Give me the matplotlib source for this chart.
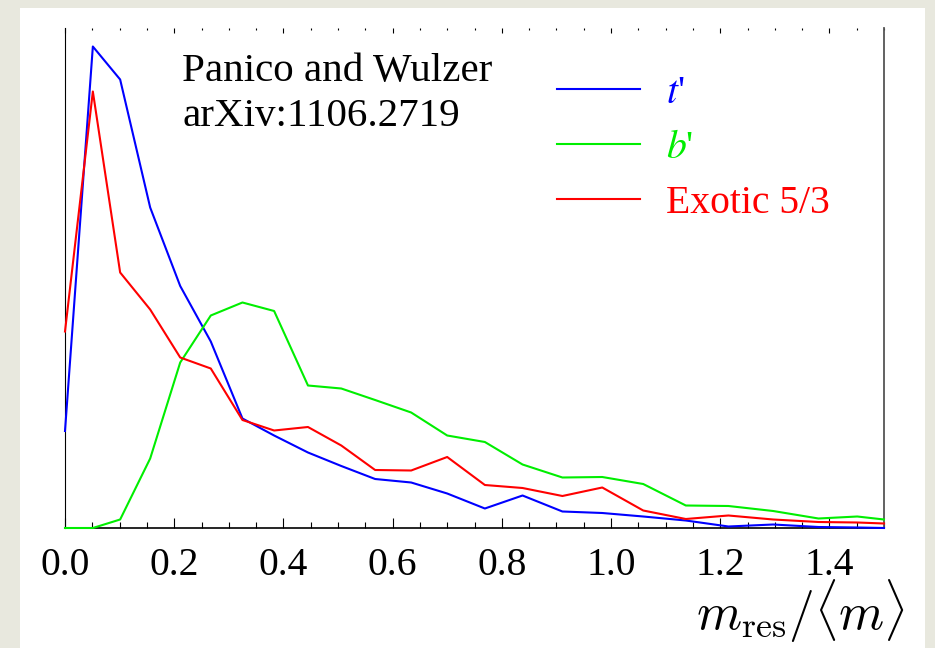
import matplotlib
matplotlib.use("Agg")
import matplotlib.pyplot as plt
from matplotlib.patches import Rectangle
from matplotlib.ticker import MultipleLocator, NullLocator

# bin positions in m_res/<m> (bins get wider towards the tail)
x_bins = [0.0, 0.051, 0.101, 0.156, 0.211, 0.267, 0.325, 0.383, 0.445, 0.506,
          0.568, 0.634, 0.700, 0.769, 0.838, 0.911, 0.984, 1.059, 1.137, 1.215,
          1.297, 1.380, 1.451, 1.500]

# arbitrary-unit distributions
t_prime = [0.194, 0.963, 0.897, 0.641, 0.484, 0.373, 0.219, 0.185, 0.151, 0.124,
           0.098, 0.091, 0.069, 0.039, 0.065, 0.033, 0.030, 0.023, 0.015, 0.003,
           0.007, 0.002, 0.001, 0.000]
b_prime = [0.000, 0.000, 0.017, 0.139, 0.331, 0.425, 0.451, 0.434, 0.285, 0.279,
           0.256, 0.231, 0.185, 0.172, 0.127, 0.101, 0.102, 0.088, 0.045, 0.044,
           0.034, 0.019, 0.023, 0.017]
exotic = [0.393, 0.873, 0.511, 0.437, 0.341, 0.319, 0.216, 0.195, 0.202, 0.165,
          0.116, 0.115, 0.142, 0.086, 0.080, 0.064, 0.081, 0.035, 0.018, 0.025,
          0.017, 0.012, 0.011, 0.009]

series = [
    ("$t$'", t_prime, "#0000ff"),
    ("$b$'", b_prime, "#00ee00"),
    ("Exotic 5/3", exotic, "#ff0000"),
]

plt.rcParams["font.family"] = ["Liberation Serif", "DejaVu Serif"]
plt.rcParams["mathtext.fontset"] = "stix"

W, H = 935, 648
fig = plt.figure(figsize=(W / 100, H / 100), dpi=100)
fig.patch.set_facecolor("#e8e8de")


def fx(px):
    return px / W


def fy(py):
    return 1 - py / H


# white sheet on the textured background
fig.patches.append(Rectangle((fx(20), 0), fx(925) - fx(20), fy(8),
                             transform=fig.transFigure, facecolor="white",
                             edgecolor="none", zorder=-5))

ax = fig.add_axes([fx(65), fy(528), fx(884) - fx(65), fy(28) - fy(528)])
ax.set_facecolor("white")

for label, vals, color in series:
    ax.plot(x_bins, vals, color=color, lw=1.5, label=label, zorder=3,
            clip_on=False)

ax.set_xlim(0, 1.5)
ax.set_ylim(0, 1.0)

ax.spines["top"].set_visible(False)
ax.spines["left"].set_linewidth(0.8)
ax.spines["bottom"].set_linewidth(1.2)
ax.spines["right"].set_linewidth(1.3)
ax.spines["right"].set_color("#555555")

ax.yaxis.set_major_locator(NullLocator())
ax.xaxis.set_major_locator(MultipleLocator(0.2))
ax.xaxis.set_minor_locator(MultipleLocator(0.05))
ax.tick_params(axis="x", which="major", direction="in", length=7, width=0.8,
               labelsize=28.5, pad=14, top=False)
ax.tick_params(axis="x", which="minor", direction="in", length=4.5, width=0.8,
               top=False)
ax.set_xticklabels([f"{v:.1f}" for v in ax.get_xticks()])

# top edge: short ticks, no spine
sec = ax.secondary_xaxis("top")
sec.spines["top"].set_visible(False)
sec.xaxis.set_major_locator(MultipleLocator(0.2))
sec.xaxis.set_minor_locator(MultipleLocator(0.05))
sec.tick_params(which="major", direction="in", length=3.5, width=0.8,
                labeltop=False)
sec.tick_params(which="minor", direction="in", length=1.2, width=0.8)

fig.text(fx(182), fy(81), "Panico and Wulzer", fontsize=29.5,
         va="baseline", ha="left")
fig.text(fx(182), fy(126), "arXiv:1106.2719", fontsize=29.5,
         va="baseline", ha="left")

leg = ax.legend(loc="upper left", bbox_to_anchor=((557 - 65) / 819, (528 - 75) / 500),
                frameon=False, fontsize=28.5, handlelength=2.1, handletextpad=0.65,
                labelspacing=0.45, borderpad=0, borderaxespad=0,
                labelcolor="linecolor")

fig.text(fx(905), fy(630), r"$m_{\rm res}/\langle m\rangle$", fontsize=37,
         ha="right", va="baseline", math_fontfamily="cm")

fig.savefig("out.png", dpi=100, facecolor=fig.get_facecolor())
